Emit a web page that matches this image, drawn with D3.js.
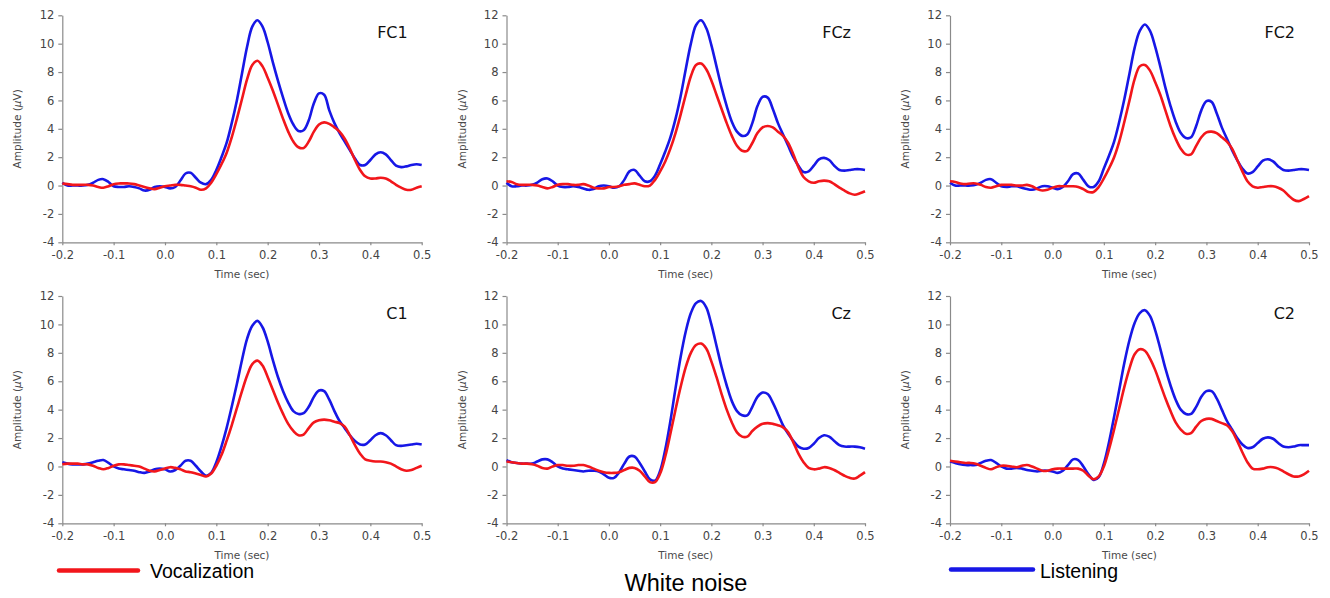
<!DOCTYPE html>
<html>
<head>
<meta charset="utf-8">
<script src="https://cdn.jsdelivr.net/npm/d3@7"></script>
<style>
  body { margin: 0; background: #fff; }
  .axis path, .axis line { stroke: #8a8a8a; stroke-width: 1.2; }
  .axis text { fill: #444; font-family: "DejaVu Sans", sans-serif; font-size: 11.5px; }
  .lbl { fill: #4a4a4a; font-family: "DejaVu Sans", sans-serif; font-size: 10.5px; }
</style>
</head>
<body>
<div id="chart"></div>
<script>
// time in seconds, one sample every 10 ms
var time = [-0.20,-0.19,-0.18,-0.17,-0.16,-0.15,-0.14,-0.13,-0.12,-0.11,
            -0.10,-0.09,-0.08,-0.07,-0.06,-0.05,-0.04,-0.03,-0.02,-0.01,
             0.00, 0.01, 0.02, 0.03, 0.04, 0.05, 0.06, 0.07, 0.08, 0.09,
             0.10, 0.11, 0.12, 0.13, 0.14, 0.15, 0.16, 0.17, 0.18, 0.19,
             0.20, 0.21, 0.22, 0.23, 0.24, 0.25, 0.26, 0.27, 0.28, 0.29,
             0.30, 0.31, 0.32, 0.33, 0.34, 0.35, 0.36, 0.37, 0.38, 0.39,
             0.40, 0.41, 0.42, 0.43, 0.44, 0.45, 0.46, 0.47, 0.48, 0.49, 0.50];

var electrodes = ["FC1", "FCz", "FC2", "C1", "Cz", "C2"];

// Listening (blue), amplitude in microvolts
var listenFC1 = [0.2,0.0,0.0,0.0,0.0,0.05,0.2,0.4,0.45,0.25,
  -0.05,-0.1,-0.1,-0.05,-0.1,-0.2,-0.35,-0.3,-0.1,-0.05,
  -0.1,-0.2,-0.1,0.35,0.85,0.9,0.55,0.2,0.1,0.4,
  1.1,2.0,3.0,4.4,6.0,7.9,9.8,11.2,11.65,11.2,
  10.1,8.7,7.4,6.2,5.1,4.3,3.85,3.9,4.6,5.8,
  6.5,6.4,5.3,4.4,3.7,3.1,2.5,1.9,1.45,1.45,
  1.8,2.2,2.35,2.2,1.8,1.4,1.3,1.35,1.45,1.5,1.45];
var listenFCz = [0.2,-0.05,-0.05,0.0,0.0,0.05,0.2,0.45,0.5,0.3,
  0.0,-0.1,-0.1,-0.05,-0.1,-0.2,-0.3,-0.25,-0.05,0.0,
  -0.05,-0.15,-0.05,0.4,1.0,1.1,0.7,0.3,0.3,0.7,
  1.5,2.4,3.4,4.7,6.3,8.2,10.0,11.3,11.65,11.1,
  9.9,8.4,6.9,5.6,4.5,3.8,3.5,3.6,4.4,5.6,
  6.25,6.2,5.4,4.4,3.6,2.8,2.0,1.4,0.95,1.0,
  1.4,1.85,1.95,1.8,1.4,1.1,1.05,1.1,1.15,1.15,1.1];
var listenFC2 = [0.2,0.0,0.0,0.0,0.0,0.05,0.2,0.4,0.45,0.2,
  -0.05,-0.1,-0.05,-0.05,-0.15,-0.25,-0.3,-0.2,-0.05,-0.05,
  -0.15,-0.25,-0.1,0.3,0.8,0.85,0.4,-0.05,-0.1,0.3,
  1.2,2.1,3.1,4.5,6.1,7.9,9.7,10.9,11.35,10.9,
  9.8,8.4,6.9,5.6,4.5,3.7,3.35,3.4,4.2,5.3,
  5.95,5.9,5.1,4.1,3.3,2.5,1.8,1.2,0.85,0.95,
  1.35,1.75,1.85,1.7,1.35,1.1,1.05,1.1,1.15,1.15,1.1];
var listenC1 = [0.3,0.2,0.15,0.15,0.15,0.2,0.3,0.4,0.45,0.25,
  0.0,-0.15,-0.2,-0.25,-0.3,-0.4,-0.45,-0.35,-0.2,-0.15,
  -0.2,-0.35,-0.25,0.05,0.4,0.4,0.05,-0.35,-0.65,-0.45,
  0.3,1.4,2.7,4.2,5.8,7.5,9.0,9.9,10.25,9.8,
  8.8,7.5,6.3,5.3,4.5,3.9,3.7,3.75,4.2,4.9,
  5.35,5.3,4.7,3.9,3.2,2.7,2.2,1.8,1.55,1.55,
  1.85,2.2,2.35,2.2,1.85,1.5,1.45,1.5,1.55,1.6,1.55];
var listenCz = [0.45,0.3,0.25,0.2,0.2,0.2,0.35,0.5,0.5,0.3,
  0.0,-0.15,-0.2,-0.25,-0.3,-0.35,-0.3,-0.3,-0.35,-0.55,
  -0.8,-0.8,-0.4,0.2,0.7,0.7,0.25,-0.35,-0.9,-1.0,
  -0.3,1.2,3.2,5.5,7.7,9.5,10.8,11.5,11.65,11.2,
  10.0,8.5,7.0,5.7,4.6,3.9,3.6,3.6,4.2,4.9,
  5.2,5.1,4.5,3.7,2.9,2.3,1.8,1.4,1.25,1.3,
  1.6,2.0,2.2,2.1,1.8,1.5,1.4,1.4,1.4,1.35,1.25];
var listenC2 = [0.35,0.25,0.15,0.1,0.1,0.1,0.25,0.4,0.45,0.25,
  0.0,-0.15,-0.15,-0.1,-0.15,-0.25,-0.3,-0.35,-0.3,-0.3,
  -0.35,-0.45,-0.3,0.1,0.5,0.45,0.0,-0.55,-0.95,-0.75,
  0.2,1.7,3.5,5.4,7.3,8.9,10.1,10.8,11.0,10.6,
  9.6,8.3,6.9,5.7,4.7,4.0,3.7,3.7,4.2,4.9,
  5.3,5.3,4.8,4.0,3.2,2.6,2.0,1.55,1.3,1.35,
  1.65,1.95,2.05,1.95,1.65,1.4,1.35,1.4,1.5,1.5,1.5];

// Vocalization (red), amplitude in microvolts
var vocalFC1 = [0.15,0.1,0.05,0.05,0.05,0.05,0.0,-0.1,-0.15,-0.05,
  0.1,0.15,0.15,0.15,0.1,0.0,-0.1,-0.2,-0.25,-0.15,
  -0.05,0.0,0.05,0.05,0.0,-0.05,-0.15,-0.3,-0.2,0.2,
  0.8,1.5,2.3,3.4,4.7,6.1,7.5,8.5,8.8,8.4,
  7.6,6.7,5.7,4.7,3.8,3.1,2.7,2.65,3.1,3.8,
  4.3,4.45,4.35,4.1,3.8,3.3,2.6,1.8,1.1,0.65,
  0.5,0.5,0.55,0.5,0.3,0.05,-0.15,-0.3,-0.3,-0.15,-0.05];
var vocalFCz = [0.3,0.25,0.1,0.05,0.05,0.05,0.0,-0.1,-0.2,-0.1,
  0.05,0.1,0.1,0.05,0.05,0.1,0.0,-0.15,-0.2,-0.2,
  -0.1,-0.1,-0.05,0.05,0.1,0.15,0.05,-0.05,0.0,0.4,
  1.0,1.7,2.6,3.7,5.0,6.4,7.7,8.5,8.6,8.2,
  7.4,6.4,5.4,4.4,3.5,2.8,2.45,2.45,3.0,3.7,
  4.1,4.2,4.1,3.8,3.5,3.0,2.2,1.3,0.6,0.3,
  0.2,0.3,0.35,0.3,0.1,-0.15,-0.35,-0.55,-0.65,-0.55,-0.4];
var vocalFC2 = [0.3,0.25,0.15,0.1,0.15,0.15,0.05,-0.1,-0.15,-0.05,
  0.05,0.05,0.05,0.0,0.0,0.05,-0.05,-0.25,-0.35,-0.3,
  -0.15,-0.05,-0.05,-0.05,-0.05,-0.1,-0.25,-0.45,-0.45,-0.1,
  0.5,1.2,2.0,3.1,4.5,6.0,7.5,8.4,8.5,8.1,
  7.3,6.4,5.3,4.2,3.3,2.6,2.2,2.2,2.8,3.4,
  3.75,3.8,3.7,3.4,3.1,2.6,1.8,1.0,0.3,-0.05,
  -0.15,-0.1,-0.05,-0.05,-0.15,-0.35,-0.7,-1.0,-1.1,-0.95,-0.75];
var vocalC1 = [0.15,0.2,0.2,0.2,0.15,0.15,0.05,-0.1,-0.2,-0.1,
  0.05,0.15,0.15,0.1,0.05,0.0,-0.15,-0.3,-0.35,-0.25,
  -0.15,-0.05,-0.1,-0.2,-0.35,-0.4,-0.5,-0.6,-0.7,-0.5,
  0.05,0.8,1.8,2.9,4.1,5.3,6.4,7.2,7.45,7.1,
  6.3,5.4,4.5,3.7,3.0,2.5,2.2,2.25,2.7,3.1,
  3.25,3.3,3.25,3.15,3.05,2.8,2.2,1.5,0.9,0.5,
  0.4,0.35,0.35,0.3,0.2,0.0,-0.2,-0.3,-0.25,-0.1,0.05];
var vocalCz = [0.35,0.3,0.25,0.2,0.2,0.15,0.05,-0.1,-0.15,0.0,
  0.1,0.1,0.05,0.05,0.1,0.1,0.0,-0.15,-0.3,-0.4,
  -0.45,-0.45,-0.4,-0.25,-0.1,-0.1,-0.3,-0.7,-1.1,-1.1,
  -0.5,0.7,2.3,4.0,5.6,7.0,8.0,8.55,8.65,8.3,
  7.4,6.3,5.1,4.0,3.1,2.4,2.1,2.1,2.5,2.8,
  3.0,3.05,3.0,2.9,2.75,2.4,1.7,0.9,0.3,-0.1,
  -0.2,-0.15,-0.05,-0.1,-0.25,-0.45,-0.65,-0.8,-0.85,-0.65,-0.4];
var vocalC2 = [0.4,0.35,0.3,0.25,0.25,0.2,0.05,-0.1,-0.2,-0.05,
  0.05,0.05,0.0,-0.05,0.05,0.1,0.0,-0.15,-0.3,-0.3,
  -0.2,-0.15,-0.15,-0.15,-0.15,-0.15,-0.3,-0.65,-0.9,-0.7,
  0.0,1.2,2.6,4.1,5.6,6.9,7.9,8.25,8.15,7.6,
  6.8,5.8,4.8,3.9,3.1,2.6,2.3,2.35,2.8,3.2,
  3.35,3.35,3.2,3.05,2.9,2.5,1.8,1.0,0.3,-0.15,
  -0.2,-0.15,-0.05,-0.05,-0.15,-0.35,-0.55,-0.7,-0.7,-0.55,-0.3];

var listening = [listenFC1, listenFCz, listenFC2, listenC1, listenCz, listenC2];
var vocalization = [vocalFC1, vocalFCz, vocalFC2, vocalC1, vocalCz, vocalC2];

var xTicks = [-0.2, -0.1, 0.0, 0.1, 0.2, 0.3, 0.4, 0.5];
var yTicks = [-4, -2, 0, 2, 4, 6, 8, 10, 12];

var W = 1330, H = 598;
var red = "#f2161b", blue = "#1717e6";

// plain hyphen for negatives, like the original figure
var fmtX = function(d) { return d3.format(".1f")(d).replace("\u2212", "-"); };
var fmtY = function(d) { return String(d); };

var svg = d3.select("#chart").append("svg")
    .attr("width", W)
    .attr("height", H);

// panel frames: left edge, right edge of x axis; top/bottom of y axis
var colLeft = [62.3, 506.5, 950];
var colRight = [421.7, 865, 1309];
var rowTop = [15.3, 296];
var rowBottom = [242.3, 523.3];

electrodes.forEach(function(name, i) {
    var col = i % 3, row = Math.floor(i / 3);
    var x = d3.scaleLinear().domain([-0.2, 0.5]).range([colLeft[col], colRight[col]]);
    var y = d3.scaleLinear().domain([-4, 12]).range([rowBottom[row], rowTop[row]]);

    var g = svg.append("g");

    // x axis
    g.append("g")
        .attr("class", "axis")
        .attr("transform", "translate(0," + rowBottom[row] + ")")
        .call(d3.axisBottom(x).tickValues(xTicks).tickFormat(fmtX).tickSize(3).tickSizeOuter(0).tickPadding(6));

    // y axis
    g.append("g")
        .attr("class", "axis")
        .attr("transform", "translate(" + colLeft[col] + ",0)")
        .call(d3.axisLeft(y).tickValues(yTicks).tickFormat(fmtY).tickSize(4).tickSizeOuter(0).tickPadding(4));

    // axis titles
    g.append("text")
        .attr("class", "lbl")
        .attr("x", (colLeft[col] + colRight[col]) / 2)
        .attr("y", rowBottom[row] + 36)
        .attr("text-anchor", "middle")
        .text("Time (sec)");

    var yt = g.append("text")
        .attr("class", "lbl")
        .attr("transform", "translate(" + (colLeft[col] - 41) + "," + ((rowTop[row] + rowBottom[row]) / 2) + ") rotate(-90)")
        .attr("text-anchor", "middle");
    yt.append("tspan").text("Amplitude (");
    yt.append("tspan").style("font-style", "italic").text("\u03bc");
    yt.append("tspan").text("V)");

    // electrode label
    g.append("text")
        .attr("x", colRight[col] - 14)
        .attr("y", rowTop[row] + 23)
        .attr("text-anchor", "end")
        .style("font-family", "'DejaVu Sans', sans-serif")
        .style("font-size", "16px")
        .style("fill", "#111")
        .text(name);

    var line = d3.line()
        .x(function(d, k) { return x(time[k]); })
        .y(function(d) { return y(d); })
        .curve(d3.curveCatmullRom.alpha(0.5));

    g.append("path")
        .attr("d", line(listening[i]))
        .style("fill", "none")
        .style("stroke", blue)
        .style("stroke-width", 2.6);

    g.append("path")
        .attr("d", line(vocalization[i]))
        .style("fill", "none")
        .style("stroke", red)
        .style("stroke-width", 2.6);
});

// legend
svg.append("line")
    .attr("x1", 59).attr("x2", 138).attr("y1", 570.5).attr("y2", 570.5)
    .style("stroke", red).style("stroke-width", 4.5).style("stroke-linecap", "round");
svg.append("text")
    .attr("x", 150).attr("y", 577.5)
    .style("font-family", "'Liberation Sans', Arial, sans-serif")
    .style("font-size", "19.5px")
    .text("Vocalization");

svg.append("line")
    .attr("x1", 951).attr("x2", 1033).attr("y1", 569.5).attr("y2", 569.5)
    .style("stroke", blue).style("stroke-width", 4.5).style("stroke-linecap", "round");
svg.append("text")
    .attr("x", 1040).attr("y", 577.5)
    .style("font-family", "'Liberation Sans', Arial, sans-serif")
    .style("font-size", "19.5px")
    .text("Listening");

svg.append("text")
    .attr("x", 686).attr("y", 591)
    .attr("text-anchor", "middle")
    .style("font-family", "'Liberation Sans', Arial, sans-serif")
    .style("font-size", "23.5px")
    .text("White noise");
</script>
</body>
</html>
